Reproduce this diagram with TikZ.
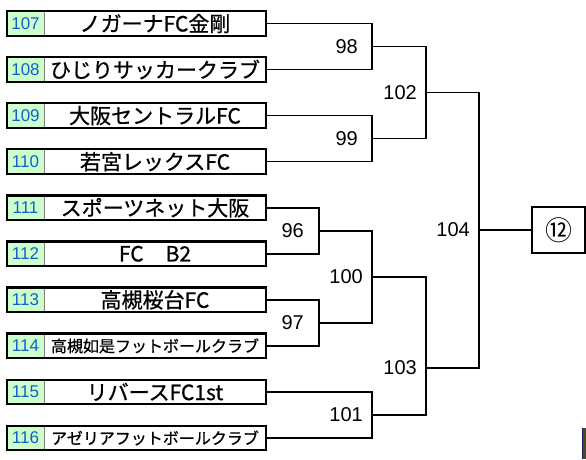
\documentclass[tikz,border=0pt]{standalone}
\usepackage{fontspec}
\setmainfont{Liberation Sans}
\newfontfamily\jp[FakeBold=0.8]{Noto Sans CJK JP}
\newfontfamily\jpsym{Noto Sans CJK JP}
\definecolor{numgreen}{HTML}{CCFFCC}
\definecolor{numblue}{HTML}{1060C8}
\definecolor{artdark}{HTML}{4A4A2A}
\definecolor{artnavy}{HTML}{1A1A60}
\begin{document}
\begin{tikzpicture}[x=1pt,y=-1pt,
 numbox/.style={fill=numgreen, draw=black!50, line width=0.6pt, minimum width=37pt, minimum height=24pt, inner sep=0pt, text=numblue, font=\fontsize{17}{17}\selectfont},
 namebox/.style={minimum width=222pt, minimum height=24pt, inner sep=0pt, font=\jp\fontsize{21}{21}\selectfont},
 smallname/.style={namebox, font=\jp\fontsize{16}{16}\selectfont},
 teamframe/.style={draw, line width=2.2pt},
 bracket/.style={draw, line width=1.6pt},
 score/.style={anchor=east, inner sep=0pt, font=\fontsize{20}{20}\selectfont}]
\useasboundingbox (0,0) rectangle (586,459);

% teams
\node[numbox] (n107) at (25.5,23.5) {107};
\node[namebox] (t107) at (155,23.5) {ノガーナFC金剛};
\node[numbox] (n108) at (25.5,69.55) {108};
\node[namebox] (t108) at (155,69.55) {ひじりサッカークラブ};
\node[numbox] (n109) at (25.5,115.6) {109};
\node[namebox] (t109) at (155,115.6) {大阪セントラルFC};
\node[numbox] (n110) at (25.5,161.65) {110};
\node[namebox] (t110) at (155,161.65) {若宮レックスFC};
\node[numbox] (n111) at (25.5,207.7) {111};
\node[namebox] (t111) at (155,207.7) {スポーツネット大阪};
\node[numbox] (n112) at (25.5,253.75) {112};
\node[namebox] (t112) at (155,253.75) {FC\hspace{22pt}B2};
\node[numbox] (n113) at (25.5,299.8) {113};
\node[namebox] (t113) at (155,299.8) {高槻桜台FC};
\node[numbox] (n114) at (25.5,345.85) {114};
\node[smallname] (t114) at (155,345.85) {高槻如是フットボールクラブ};
\node[numbox] (n115) at (25.5,391.9) {115};
\node[namebox] (t115) at (155,391.9) {リバースFC1st};
\node[numbox] (n116) at (25.5,437.95) {116};
\node[smallname] (t116) at (155,437.95) {アゼリアフットボールクラブ};

\foreach \k in {107,...,116}{
  \draw[teamframe] (n\k.north west) rectangle (t\k.south east);
}

% match points
\coordinate (m98) at (372,46.5);
\coordinate (m99) at (372,138.6);
\coordinate (m102) at (426,92.5);
\coordinate (m96) at (319,230.7);
\coordinate (m97) at (319,322.8);
\coordinate (m100) at (372,276.8);
\coordinate (m101) at (372,414.9);
\coordinate (m103) at (426,368);
\coordinate (m104) at (479,230);

% brackets
\draw[bracket] (t107.east) -| (m98) |- (t108.east);
\draw[bracket] (t109.east) -| (m99) |- (t110.east);
\draw[bracket] (t111.east) -| (m96) |- (t112.east);
\draw[bracket] (t113.east) -| (m97) |- (t114.east);
\draw[bracket] (t115.east) -| (m101) |- (t116.east);
\draw[bracket] (m98) -| (m102) |- (m99);
\draw[bracket] (m96) -| (m100) |- (m97);
\draw[bracket] (m100) -| (m103) |- (m101);
\draw[bracket] (m102) -| (m104) |- (m103);

% final box
\node[draw, line width=2pt, minimum width=53pt, minimum height=46pt, inner sep=0pt, font=\jpsym\fontsize{27}{27}\selectfont] (final) at (558.5,230) {⑫};
\draw[bracket] (m104) -- (final.west);

% match labels
\node[score] (l98) at (358,46.5) {98};
\node[score] (l99) at (358,138.6) {99};
\node[score] (l102) at (417,92.5) {102};
\node[score] (l96) at (304,230.7) {96};
\node[score] (l97) at (304,322.8) {97};
\node[score] (l100) at (363,276.8) {100};
\node[score] (l101) at (363,414.9) {101};
\node[score] (l103) at (417,368) {103};
\node[score] (l104) at (470,230) {104};

% image fragment at bottom right
\fill[artdark] (582,428) rectangle (586,459);
\draw[artnavy, line width=0.8pt] (582.4,428.4) -- (582.4,459);
\end{tikzpicture}
\end{document}
